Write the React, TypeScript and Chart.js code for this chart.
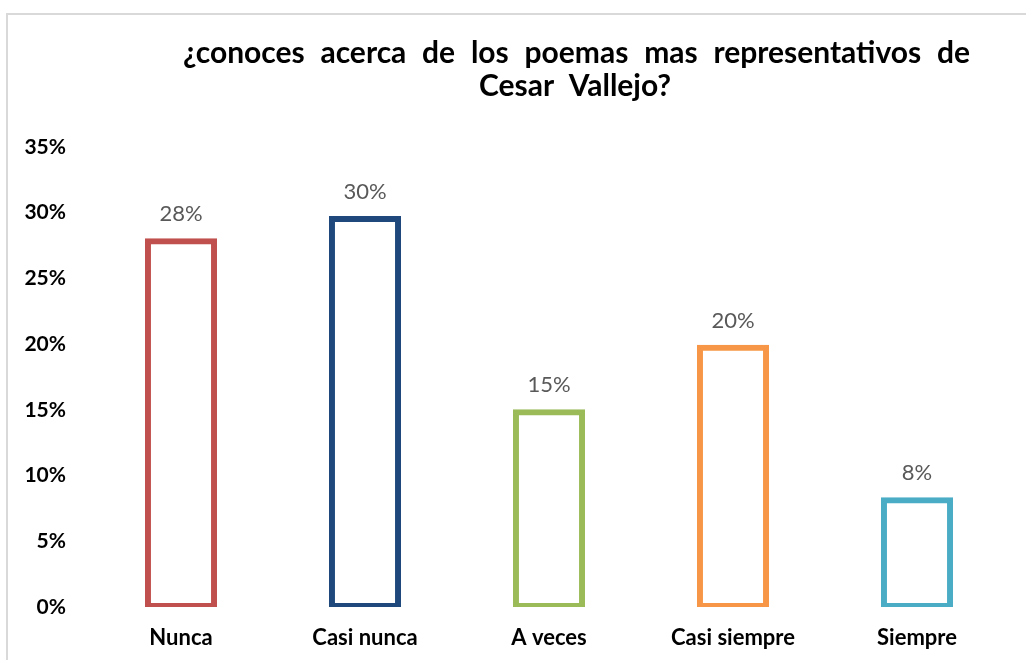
import React, { useEffect, useRef } from "react";
import { Chart, registerables } from "chart.js";

Chart.register(...registerables);

const categories = ["Nunca", "Casi nunca", "A veces", "Casi siempre", "Siempre"];
const values = [27.9, 29.6, 14.9, 19.8, 8.2];
const barColors = ["#C0504D", "#1F497D", "#9BBB59", "#F79646", "#4BACC6"];
const titleLine1 = ["¿conoces", "acerca", "de", "los", "poemas", "mas", "representativos", "de"];
const titleLine2 = "Cesar  Vallejo?";
const yMax = 35;
const yStep = 5;

const FONT = "Lato, 'Open Sans', sans-serif";

const titlePlugin = {
  id: "justTitle",
  afterDraw(chart: any) {
    const ctx = chart.ctx;
    ctx.save();
    ctx.fillStyle = "#000000";
    ctx.font = `bold 30px ${FONT}`;
    ctx.textBaseline = "alphabetic";
    const left = 183;
    const right = 970;
    const widths = titleLine1.map((w) => ctx.measureText(w).width);
    const total = widths.reduce((a, b) => a + b, 0);
    const gap = (right - left - total) / (titleLine1.length - 1);
    let x = left;
    ctx.textAlign = "left";
    titleLine1.forEach((w, i) => {
      ctx.fillText(w, x, 63);
      x += widths[i] + gap;
    });
    ctx.textAlign = "center";
    ctx.fillText(titleLine2, 575, 96);
    ctx.restore();
  },
};

const labelPlugin = {
  id: "valueLabels",
  afterDatasetsDraw(chart: any) {
    const ctx = chart.ctx;
    const meta = chart.getDatasetMeta(0);
    ctx.save();
    ctx.fillStyle = "#595959";
    ctx.font = `22px ${FONT}`;
    ctx.textAlign = "center";
    ctx.textBaseline = "middle";
    meta.data.forEach((bar: any, i: number) => {
      ctx.fillText(Math.round(values[i]) + "%", bar.x, bar.y - 26);
    });
    ctx.restore();
  },
};

export default function App() {
  const ref = useRef<HTMLCanvasElement | null>(null);

  useEffect(() => {
    document.body.style.overflow = "hidden";
    if (!ref.current) return;
    const chart = new Chart(ref.current, {
      type: "bar",
      data: {
        labels: categories,
        datasets: [
          {
            data: values,
            backgroundColor: "rgba(0,0,0,0)",
            borderColor: barColors,
            borderWidth: 2,
            inflateAmount: 2,
            borderSkipped: false,
            barPercentage: 0.37,
            categoryPercentage: 1,
          } as any,
        ],
      },
      options: {
        animation: false,
        responsive: false,
        devicePixelRatio: 1,
        layout: { padding: { top: 147, left: 0, right: 17, bottom: 0 } },
        plugins: {
          legend: { display: false },
          title: { display: false },
          tooltip: { enabled: false },
        },
        scales: {
          x: {
            grid: { display: false, drawTicks: false },
            border: { display: false },
            ticks: {
              color: "#000000",
              font: { family: FONT, size: 22, weight: "bold" },
              padding: 18,
              maxRotation: 0,
              autoSkip: false,
            },
            afterFit(scale: any) {
              scale.height = 53;
            },
          },
          y: {
            min: 0,
            max: yMax,
            grid: { display: false, drawTicks: false },
            border: { display: false },
            ticks: {
              stepSize: yStep,
              color: "#000000",
              font: { family: FONT, size: 21, weight: "bold" },
              padding: 23,
              callback: (v: any) => v + "%",
            },
            afterFit(scale: any) {
              scale.width = 89;
            },
          },
        },
      },
      plugins: [titlePlugin, labelPlugin],
    });
    return () => chart.destroy();
  }, []);

  return (
    <>
      <div
        style={{
          position: "fixed",
          left: 6,
          top: 13,
          width: 1100,
          height: 700,
          border: "2px solid #d9d9d9",
          background: "#ffffff",
        }}
      />
      <canvas
        ref={ref}
        width={1026}
        height={660}
        style={{ position: "fixed", left: 0, top: 0, width: 1026, height: 660 }}
      />
    </>
  );
}
